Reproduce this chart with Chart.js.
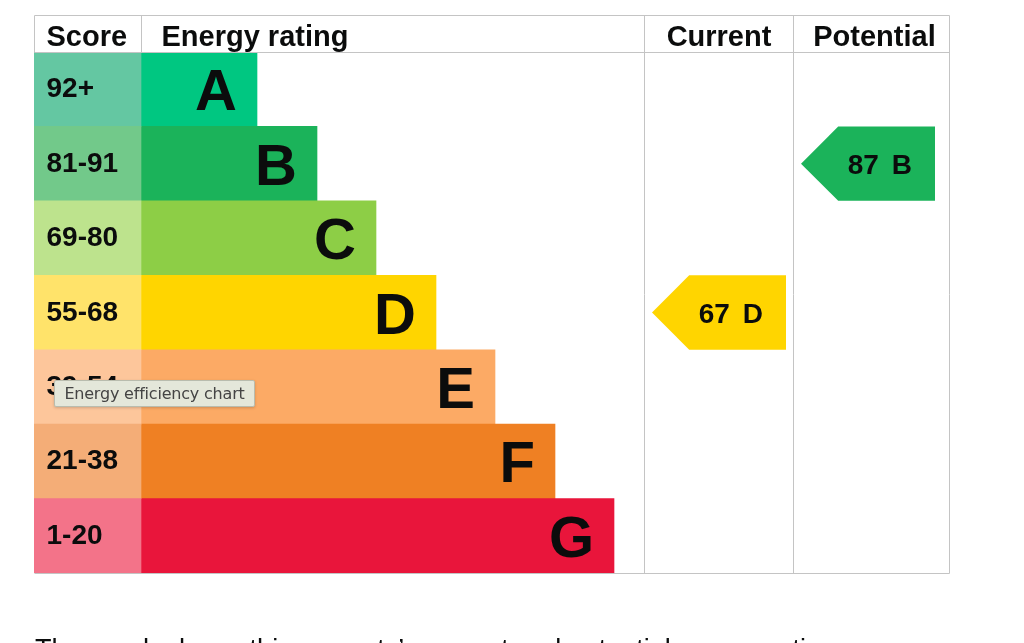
<!DOCTYPE html>
<html>
<head>
<meta charset="utf-8">
<script src="https://cdn.jsdelivr.net/npm/chart.js@4"></script>
<style>
  html, body { margin: 0; padding: 0; background: #fff; overflow: hidden; }
  #wrap { position: relative; width: 1024px; height: 643px; overflow: hidden; }
  #epc { position: absolute; left: 0; top: 0; }
  .tip {
    position: absolute; left: 54px; top: 380px; width: 199px; height: 25px;
    background: #e4e7da; border: 1px solid #b9bcae; border-radius: 2px;
    box-shadow: 0 1px 3px rgba(0,0,0,0.18);
    font: 16px "DejaVu Sans", "Noto Sans", sans-serif; color: #444;
    line-height: 25px; text-align: center; letter-spacing: -0.2px;
  }
  .caption {
    position: absolute; left: 35px; top: 636px; white-space: nowrap;
    font: 27px/27px "Liberation Sans", Arial, sans-serif; color: #0b0c0c;
  }
</style>
</head>
<body>
<div id="wrap">
  <canvas id="epc" width="1024" height="643"></canvas>
  <div class="tip">Energy efficiency chart</div>
  <div class="caption">The graph shows this property’s current and potential energy rating.</div>
</div>
<script>
// Rating bands, top to bottom
const bands = ['A', 'B', 'C', 'D', 'E', 'F', 'G'];
const scoreRanges = ['92+', '81-91', '69-80', '55-68', '39-54', '21-38', '1-20'];
const bandMinScores = [92, 81, 69, 55, 39, 21, 1];
// Bar length of each band (same units as the x scale)
const barLengths = [116, 176, 235, 295, 354, 414, 473];
const bandColours = ['#00c781', '#1bb35a', '#8dce46', '#ffd500', '#fcaa65', '#ef8023', '#e9153b'];
const scoreColours = ['#64c7a2', '#72c98a', '#bde38d', '#ffe36a', '#fdc69b', '#f4ad77', '#f37389'];

const currentScore = 67;
const potentialScore = 87;

// Table columns in x scale units
const tableWidth = 915;
const scoreColWidth = 107;
const currentColStart = 610;
const potentialColStart = 759;
const headerHeight = 37;

const FONT = '"Liberation Sans", Arial, sans-serif';
const INK = '#0b0c0c';

function bandFor(score) {
  return bandMinScores.findIndex(min => score >= min);
}

const epcTable = {
  id: 'epcTable',
  afterDatasetsDraw(chart) {
    const { ctx, chartArea: a, scales: { x, y } } = chart;
    const band = (a.bottom - a.top) / bands.length;
    const px = v => Math.round(x.getPixelForValue(v)) + 0.5;
    const headTop = Math.round(a.top - headerHeight) + 0.5;
    const top = Math.round(a.top) + 0.5;
    const bottom = Math.round(a.bottom) + 0.5;
    const left = px(0), colScore = px(scoreColWidth);
    const colCur = px(currentColStart), colPot = px(potentialColStart), right = px(tableWidth);

    ctx.save();
    // grid lines
    ctx.strokeStyle = '#c4c4c4';
    ctx.lineWidth = 1;
    const line = (x1, y1, x2, y2) => { ctx.beginPath(); ctx.moveTo(x1, y1); ctx.lineTo(x2, y2); ctx.stroke(); };
    line(left, headTop, right, headTop);
    line(left, top, right, top);
    line(left, bottom, right, bottom);
    line(left, headTop, left, top);
    line(colScore, headTop, colScore, top);
    [colCur, colPot, right].forEach(cx => line(cx, headTop, cx, bottom));

    // header
    ctx.fillStyle = INK;
    ctx.font = 'bold 29px ' + FONT;
    ctx.textBaseline = 'alphabetic';
    const hy = headTop + 30;
    ctx.textAlign = 'left';
    ctx.fillText('Score', left + 12, hy);
    ctx.fillText('Energy rating', colScore + 20, hy);
    ctx.textAlign = 'center';
    ctx.fillText('Current', (colCur + colPot) / 2, hy);
    ctx.fillText('Potential', (colPot + right) / 2 + 3, hy);

    // score ranges and band letters
    bands.forEach((b, i) => {
      const cy = y.getPixelForValue(i);
      ctx.textAlign = 'left';
      ctx.font = 'bold 28px ' + FONT;
      ctx.fillText(scoreRanges[i], left + 12, cy + 8);
      ctx.textAlign = 'right';
      ctx.font = 'bold 58px ' + FONT;
      ctx.fillText(b, x.getPixelForValue(scoreColWidth + barLengths[i]) - 20, cy + 21);
    });

    // current / potential arrows
    const arrow = (score, colLeft) => {
      const i = bandFor(score);
      const cy = y.getPixelForValue(i);
      const t = cy - band / 2, bt = cy + band / 2;
      const tip = colLeft + 8, body = tip + band / 2, end = colLeft + 142;
      ctx.fillStyle = bandColours[i];
      ctx.beginPath();
      ctx.moveTo(tip, cy);
      ctx.lineTo(body, t);
      ctx.lineTo(end, t);
      ctx.lineTo(end, bt);
      ctx.lineTo(body, bt);
      ctx.closePath();
      ctx.fill();
      ctx.fillStyle = INK;
      ctx.font = 'bold 28px ' + FONT;
      ctx.textAlign = 'right';
      const lx = end - 23;
      ctx.fillText(bands[i], lx, cy + 10);
      const lw = ctx.measureText(bands[i]).width;
      ctx.fillText(String(score), lx - lw - 13, cy + 10);
    };
    arrow(currentScore, x.getPixelForValue(currentColStart));
    arrow(potentialScore, x.getPixelForValue(potentialColStart));
    ctx.restore();
  }
};

new Chart(document.getElementById('epc').getContext('2d'), {
  type: 'bar',
  data: {
    labels: bands,
    datasets: [
      {
        label: 'Score',
        data: bands.map(() => [0, scoreColWidth]),
        backgroundColor: scoreColours,
        grouped: false, barPercentage: 1, categoryPercentage: 1, borderWidth: 0
      },
      {
        label: 'Energy rating',
        data: barLengths.map(l => [scoreColWidth, scoreColWidth + l]),
        backgroundColor: bandColours,
        grouped: false, barPercentage: 1, categoryPercentage: 1, borderWidth: 0
      }
    ]
  },
  options: {
    indexAxis: 'y',
    responsive: false,
    animation: false,
    layout: { padding: { left: 34, right: 75, top: 52, bottom: 70 } },
    plugins: { legend: { display: false }, tooltip: { enabled: false } },
    scales: {
      x: { type: 'linear', min: 0, max: tableWidth, display: false },
      y: { display: false }
    }
  },
  plugins: [epcTable]
});
</script>
</body>
</html>
